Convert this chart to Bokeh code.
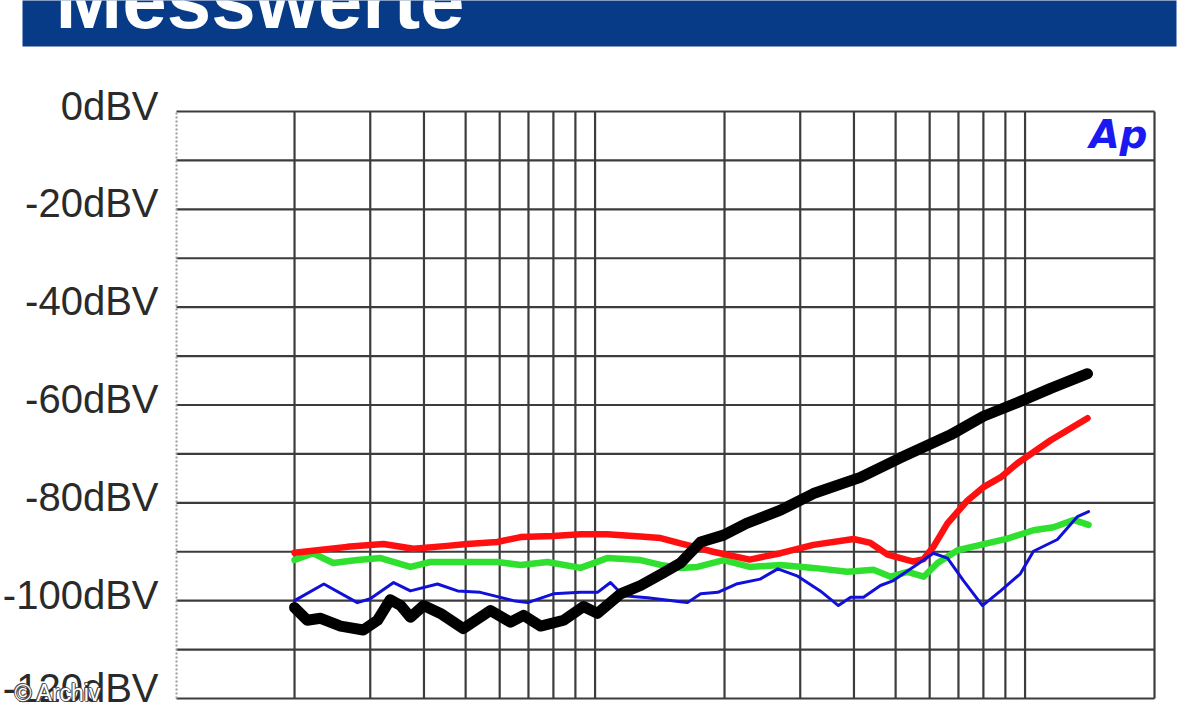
import math
from bokeh.plotting import figure
from bokeh.models import Range1d, LogScale
from bokeh.core.properties import value
from bokeh.embed import file_html
from bokeh.resources import INLINE

# ---------------- data ----------------
title_text = "Messwerte"
logo_text = "Ap"
credit_text = "© Archiv"

y_ticks = [0, -20, -40, -60, -80, -100, -120]
y_tick_labels = ["0dBV", "-20dBV", "-40dBV", "-60dBV", "-80dBV", "-100dBV", "-120dBV"]
y_grid = [0, -10, -20, -30, -40, -50, -60, -70, -80, -90, -100, -110, -120]
x_grid = [20, 30, 40, 50, 60, 70, 80, 90, 100,
          200, 300, 400, 500, 600, 700, 800, 900, 1000, 2000]
x_min, x_max = 10.63, 2000
y_min, y_max = -120, 0

red_hz = [20, 22.6, 26.5, 32.2, 37.8, 45.3, 50.4, 59.2, 67.1, 80, 92.5, 106.7, 127.6,
          142, 158, 176, 188, 229, 270, 322, 399, 437, 479, 550, 581, 612, 660, 735,
          800, 877, 960, 1147, 1397]
red_db = [-90.2, -89.7, -89.0, -88.4, -89.4, -88.8, -88.4, -88.0, -87.0, -86.8, -86.4,
          -86.4, -86.9, -87.2, -88.3, -89.3, -90.0, -91.6, -90.3, -88.6, -87.4, -88.2,
          -90.6, -92.0, -91.5, -89.0, -84.2, -79.5, -76.8, -74.8, -71.9, -67.2, -62.7]

green_hz = [20, 22.1, 24.6, 28.0, 31.7, 37.2, 41.4, 49.4, 59.3, 67.1, 77.5, 92.5, 106.7,
            127.6, 142, 158, 173, 199, 229, 270, 322, 386, 444, 487, 533, 581, 626, 697,
            788, 910, 1046, 1165, 1296, 1405]
green_db = [-91.7, -90.3, -92.3, -91.7, -91.3, -93.1, -92.1, -92.1, -92.1, -92.7, -92.1,
            -93.3, -91.3, -91.7, -92.7, -93.3, -93.1, -91.7, -93.1, -92.7, -93.3, -94.1,
            -93.7, -95.1, -94.1, -95.1, -92.3, -89.7, -88.6, -87.3, -85.6, -85.0, -83.5,
            -84.5]

blue_hz = [20, 23.4, 28.0, 30.0, 34.0, 37.2, 43.0, 47.9, 54.1, 64.6, 69.7, 80.0, 92.5,
           101.3, 108.6, 116.4, 132.5, 158, 164, 176, 193, 213, 242, 266, 296, 334, 368,
           393, 421, 461, 494, 550, 612, 660, 719, 796, 877, 975, 1046, 1189, 1324, 1405]
blue_db = [-100.0, -96.6, -100.4, -99.6, -96.3, -98.0, -96.6, -98.0, -98.3, -100.0,
           -100.4, -98.6, -98.3, -98.3, -96.3, -99.0, -99.4, -100.2, -100.4, -98.6, -98.3,
           -96.6, -95.6, -93.5, -95.0, -98.0, -101.0, -99.3, -99.3, -96.9, -95.9, -93.1,
           -90.3, -91.3, -95.9, -101.0, -98.0, -94.5, -89.9, -87.5, -82.8, -81.8]

black_hz = [20, 21.4, 23.0, 25.6, 28.9, 31.2, 33.4, 35.3, 37.2, 39.9, 43.7, 49.4, 57.1,
            63.6, 68.2, 74.7, 84.5, 94.0, 101.3, 114.6, 127.6, 144.3, 158, 176, 199, 225,
            270, 322, 414, 513, 671, 800, 960, 1147, 1397]
black_db = [-101.4, -104.0, -103.6, -105.2, -106.0, -104.0, -99.8, -101.0, -103.4,
            -101.0, -102.6, -105.7, -102.0, -104.4, -103.0, -105.2, -104.0, -101.2,
            -102.6, -98.6, -96.9, -94.3, -92.3, -88.0, -86.6, -84.2, -81.5, -78.1, -74.8,
            -70.8, -66.1, -62.3, -59.5, -56.6, -53.6]

# ---------------- layout (pixels) ----------------
W, H = 1184, 704
PLOT_L, PLOT_R, PLOT_T, PLOT_B = 176, 1154, 111, 698
BAR_L, BAR_R, BAR_B = 22, 1176, 46
label_offsets = [-6, -6, -6, -6, -6, -6, -11]   # keep the lowest label inside the page

dec_px = (PLOT_R - PLOT_L) / math.log10(x_max / x_min)
db_px = (PLOT_B - PLOT_T) / (y_max - y_min)


def px2hz(px):
    return x_min * 10 ** ((px - PLOT_L) / dec_px)


def px2db(py):
    return y_max - (py - PLOT_T) / db_px


p = figure(width=W, height=H, x_range=Range1d(px2hz(0), px2hz(W)),
           y_range=Range1d(px2db(H), px2db(0)),
           x_axis_location=None, y_axis_location=None, toolbar_location=None,
           output_backend="svg", min_border=0, min_border_left=0, min_border_right=0,
           min_border_top=0, min_border_bottom=0, outline_line_color=None,
           background_fill_color="white", border_fill_color="white")
p.x_scale = LogScale()
p.grid.visible = False
p.xgrid.grid_line_color = None
p.ygrid.grid_line_color = None

# title bar
p.quad(left=[px2hz(BAR_L)], right=[px2hz(BAR_R)], top=[px2db(-10)], bottom=[px2db(BAR_B)],
       fill_color="#073b87", line_color=None)
p.text(x=[px2hz(55)], y=[px2db(44)], text=[title_text], text_color="white",
       text_font=value("Liberation Sans"), text_font_style="bold",
       text_font_size="80px", text_baseline="bottom", text_align="left")

# grid + frame
GRID = "#3c3c3c"
p.segment(x0=x_grid, y0=[y_min] * len(x_grid), x1=x_grid, y1=[y_max] * len(x_grid),
          line_color=GRID, line_width=2.2)
p.segment(x0=[x_min] * len(y_grid), y0=y_grid, x1=[x_max] * len(y_grid), y1=y_grid,
          line_color=GRID, line_width=2.2)
p.segment(x0=[x_min], y0=[y_min], x1=[x_min], y1=[y_max],
          line_color="#9a9a9a", line_width=2, line_dash="2 2")

# y tick labels
p.text(x=[x_min] * len(y_ticks), y=y_ticks, text=y_tick_labels, x_offset=-18,
       y_offset=label_offsets, text_align="right", text_baseline="middle",
       text_font=value("Liberation Sans"), text_font_size="40px", text_color="#2a2a2a")

# curves
line_kw = dict(line_cap="round", line_join="round")
p.line(green_hz, green_db, line_color="#2fe02f", line_width=6.5, **line_kw)
p.line(red_hz, red_db, line_color="#ff1010", line_width=6.5, **line_kw)
p.line(blue_hz, blue_db, line_color="#1010d8", line_width=3, **line_kw)
p.line(black_hz, black_db, line_color="black", line_width=11, **line_kw)

# logo
p.text(x=[x_max], y=[y_max], text=[logo_text], x_offset=-7, text_align="right",
       text_baseline="top", text_font=value("DejaVu Sans"),
       text_font_style="bold italic", text_font_size="39px", text_color="#1a1af0")

# credit
CREDIT_Y = px2db(692)
for dx, dy in [(-1, 0), (1, 0), (0, -1), (0, 1), (1, 1), (-1, -1)]:
    p.text(x=[px2hz(14)], y=[CREDIT_Y], text=[credit_text], x_offset=dx, y_offset=dy,
           text_baseline="middle", text_align="left", text_font=value("Liberation Sans"),
           text_font_size="23px", text_color="#404040", text_alpha=0.8)
p.text(x=[px2hz(14)], y=[CREDIT_Y], text=[credit_text], text_baseline="middle",
       text_align="left", text_font=value("Liberation Sans"), text_font_size="23px",
       text_color="white")

open("out.html", "w").write(file_html(p, INLINE))
